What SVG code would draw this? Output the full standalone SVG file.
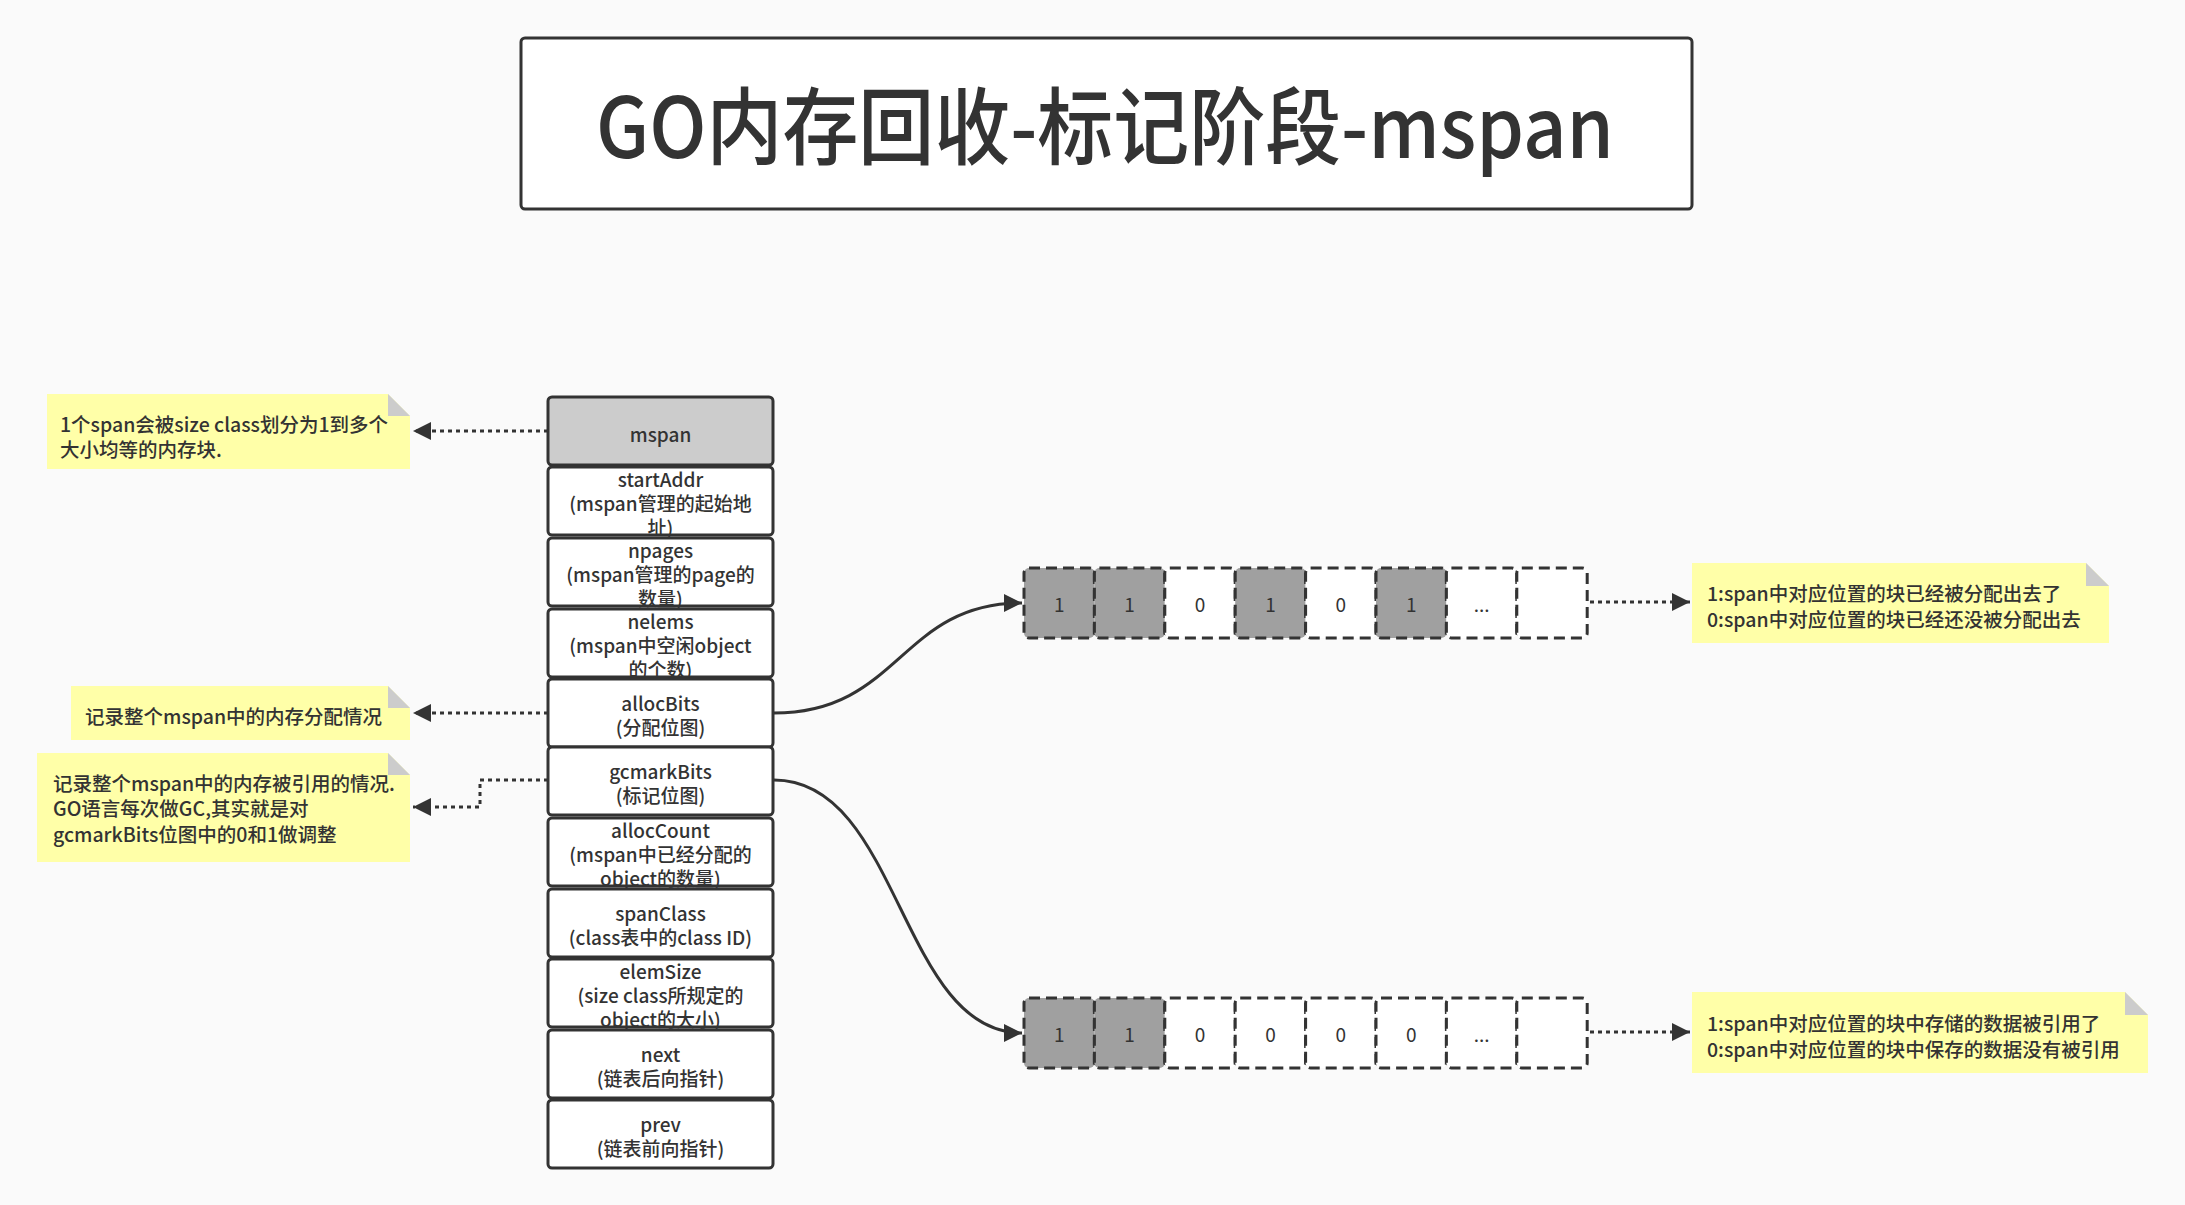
<svg xmlns="http://www.w3.org/2000/svg" width="2185" height="1205" viewBox="0 0 2185 1205">
<defs>
<style>
text{font-family:"Noto Sans CJK SC","Noto Sans",sans-serif;fill:#333;font-weight:500;}
.row{fill:#fff;stroke:#333;stroke-width:3;}
.hdr{fill:#ccc;stroke:#333;stroke-width:3;}
.t{font-size:19px;text-anchor:middle;}
.n{font-size:19.5px;}
.note{fill:#ffffa8;}
.fold{fill:#ccc;}
.cell1{fill:#a0a0a0;stroke:#333;stroke-width:3;stroke-dasharray:11 6;}
.cell0{fill:#fff;stroke:#333;stroke-width:3;stroke-dasharray:11 6;}
.ct{font-size:19px;text-anchor:middle;font-weight:400;}
.dot{fill:none;stroke:#333;stroke-width:3;stroke-dasharray:4 4;}
.curve{fill:none;stroke:#333;stroke-width:3;}
</style>
<marker id="ah" viewBox="0 0 10 10" refX="10" refY="5" markerWidth="6" markerHeight="6" markerUnits="strokeWidth" orient="auto">
<path d="M0,0 L10,5 L0,10 z" fill="#333"/>
</marker>
</defs>
<rect x="0" y="0" width="2185" height="1205" fill="#fafafa"/>

<g id="title">
<rect x="521" y="38" width="1171" height="171" rx="4" fill="#fff" stroke="#333" stroke-width="3"/>
<text x="596" y="158" font-size="84" font-weight="600" textLength="1018" lengthAdjust="spacingAndGlyphs">GO内存回收-标记阶段-mspan</text>
</g>

<g id="mspan">
<rect class="hdr" x="548" y="397" width="225" height="68" rx="4"/>
<text class="t" x="660.5" y="442">mspan</text>
</g>
<g id="startAddr">
<rect class="row" x="548" y="467" width="225" height="68" rx="4"/>
<text class="t" x="660.5" y="487">startAddr</text>
<text class="t" x="660.5" y="511">(mspan管理的起始地</text>
<text class="t" x="660.5" y="535">址)</text>
</g>
<g id="npages">
<rect class="row" x="548" y="538" width="225" height="68" rx="4"/>
<text class="t" x="660.5" y="558">npages</text>
<text class="t" x="660.5" y="582">(mspan管理的page的</text>
<text class="t" x="660.5" y="606">数量)</text>
</g>
<g id="nelems">
<rect class="row" x="548" y="609" width="225" height="68" rx="4"/>
<text class="t" x="660.5" y="629">nelems</text>
<text class="t" x="660.5" y="653">(mspan中空闲object</text>
<text class="t" x="660.5" y="677">的个数)</text>
</g>
<g id="allocBits">
<rect class="row" x="548" y="679" width="225" height="68" rx="4"/>
<text class="t" x="660.5" y="711">allocBits</text>
<text class="t" x="660.5" y="735">(分配位图)</text>
</g>
<g id="gcmarkBits">
<rect class="row" x="548" y="747" width="225" height="68" rx="4"/>
<text class="t" x="660.5" y="779">gcmarkBits</text>
<text class="t" x="660.5" y="803">(标记位图)</text>
</g>
<g id="allocCount">
<rect class="row" x="548" y="818" width="225" height="68" rx="4"/>
<text class="t" x="660.5" y="838">allocCount</text>
<text class="t" x="660.5" y="862">(mspan中已经分配的</text>
<text class="t" x="660.5" y="886">object的数量)</text>
</g>
<g id="spanClass">
<rect class="row" x="548" y="889" width="225" height="68" rx="4"/>
<text class="t" x="660.5" y="921">spanClass</text>
<text class="t" x="660.5" y="945">(class表中的class ID)</text>
</g>
<g id="elemSize">
<rect class="row" x="548" y="959" width="225" height="68" rx="4"/>
<text class="t" x="660.5" y="979">elemSize</text>
<text class="t" x="660.5" y="1003">(size class所规定的</text>
<text class="t" x="660.5" y="1027">object的大小)</text>
</g>
<g id="next">
<rect class="row" x="548" y="1030" width="225" height="68" rx="4"/>
<text class="t" x="660.5" y="1062">next</text>
<text class="t" x="660.5" y="1086">(链表后向指针)</text>
</g>
<g id="prev">
<rect class="row" x="548" y="1100" width="225" height="68" rx="4"/>
<text class="t" x="660.5" y="1132">prev</text>
<text class="t" x="660.5" y="1156">(链表前向指针)</text>
</g>

<g id="note1">
<path class="note" d="M47,394 H388 L410,416 V469 H47 Z"/>
<path class="fold" d="M388,394 L410,416 H388 Z"/>
<text class="n" x="60" y="432">1个span会被size class划分为1到多个</text>
<text class="n" x="60" y="457">大小均等的内存块.</text>
</g>
<g id="note2">
<path class="note" d="M71,686 H388 L410,708 V740 H71 Z"/>
<path class="fold" d="M388,686 L410,708 H388 Z"/>
<text class="n" x="85" y="724">记录整个mspan中的内存分配情况</text>
</g>
<g id="note3">
<path class="note" d="M37,753 H388 L410,775 V862 H37 Z"/>
<path class="fold" d="M388,753 L410,775 H388 Z"/>
<text class="n" x="53" y="791">记录整个mspan中的内存被引用的情况.</text>
<text class="n" x="53" y="816">GO语言每次做GC,其实就是对</text>
<text class="n" x="53" y="842">gcmarkBits位图中的0和1做调整</text>
</g>

<g id="allocBitsRow">
<rect class="cell1" x="1024" y="568" width="70.4" height="70" rx="5"/>
<rect class="cell1" x="1094.4" y="568" width="70.4" height="70" rx="5"/>
<rect class="cell0" x="1164.8" y="568" width="70.4" height="70" rx="5"/>
<rect class="cell1" x="1235.2" y="568" width="70.4" height="70" rx="5"/>
<rect class="cell0" x="1305.6" y="568" width="70.4" height="70" rx="5"/>
<rect class="cell1" x="1376" y="568" width="70.4" height="70" rx="5"/>
<rect class="cell0" x="1446.4" y="568" width="70.4" height="70" rx="5"/>
<rect class="cell0" x="1516.8" y="568" width="70.4" height="70" rx="5"/>
<text class="ct" x="1059.2" y="612">1</text>
<text class="ct" x="1129.6" y="612">1</text>
<text class="ct" x="1200" y="612">0</text>
<text class="ct" x="1270.4" y="612">1</text>
<text class="ct" x="1340.8" y="612">0</text>
<text class="ct" x="1411.2" y="612">1</text>
<text class="ct" x="1481.6" y="612" font-size="13">...</text>
</g>
<g id="gcmarkBitsRow">
<rect class="cell1" x="1024" y="998" width="70.4" height="70" rx="5"/>
<rect class="cell1" x="1094.4" y="998" width="70.4" height="70" rx="5"/>
<rect class="cell0" x="1164.8" y="998" width="70.4" height="70" rx="5"/>
<rect class="cell0" x="1235.2" y="998" width="70.4" height="70" rx="5"/>
<rect class="cell0" x="1305.6" y="998" width="70.4" height="70" rx="5"/>
<rect class="cell0" x="1376" y="998" width="70.4" height="70" rx="5"/>
<rect class="cell0" x="1446.4" y="998" width="70.4" height="70" rx="5"/>
<rect class="cell0" x="1516.8" y="998" width="70.4" height="70" rx="5"/>
<text class="ct" x="1059.2" y="1042">1</text>
<text class="ct" x="1129.6" y="1042">1</text>
<text class="ct" x="1200" y="1042">0</text>
<text class="ct" x="1270.4" y="1042">0</text>
<text class="ct" x="1340.8" y="1042">0</text>
<text class="ct" x="1411.2" y="1042">0</text>
<text class="ct" x="1481.6" y="1042" font-size="13">...</text>
</g>

<g id="note4">
<path class="note" d="M1692,563 H2086 L2109,586 V643 H1692 Z"/>
<path class="fold" d="M2086,563 L2109,586 H2086 Z"/>
<text class="n" x="1707" y="601">1:span中对应位置的块已经被分配出去了</text>
<text class="n" x="1707" y="627">0:span中对应位置的块已经还没被分配出去</text>
</g>
<g id="note5">
<path class="note" d="M1692,992 H2125 L2148,1015 V1073 H1692 Z"/>
<path class="fold" d="M2125,992 L2148,1015 H2125 Z"/>
<text class="n" x="1707" y="1031">1:span中对应位置的块中存储的数据被引用了</text>
<text class="n" x="1707" y="1057">0:span中对应位置的块中保存的数据没有被引用</text>
</g>

<g id="connectors">
<path class="dot" d="M548,431 H413" marker-end="url(#ah)"/>
<path class="dot" d="M548,713 H413" marker-end="url(#ah)"/>
<path class="dot" d="M548,780 H480 V807 H413" marker-end="url(#ah)"/>
<path class="dot" d="M1590,602 H1690" marker-end="url(#ah)"/>
<path class="dot" d="M1590,1032 H1690" marker-end="url(#ah)"/>
<path class="curve" d="M774,713 C900,713 900,603 1022,603" marker-end="url(#ah)"/>
<path class="curve" d="M774,780 C900,780 900,1033 1022,1033" marker-end="url(#ah)"/>
</g>
</svg>
